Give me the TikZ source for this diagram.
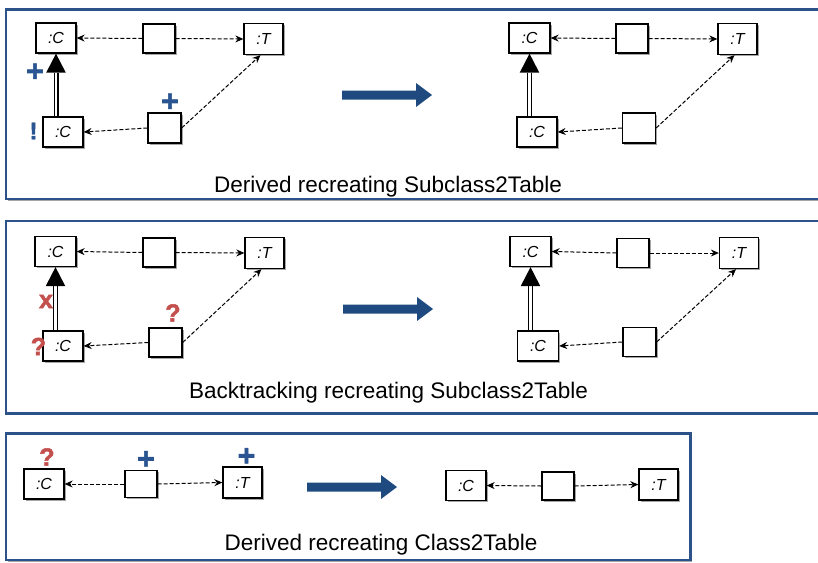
\documentclass[tikz,border=0pt]{standalone}
\usepackage{fontspec}
\setmainfont{Liberation Sans}
\newfontfamily\markfont[FakeBold=2]{Liberation Sans Bold}
\usetikzlibrary{arrows.meta,calc,shadows}
\definecolor{frameblue}{HTML}{2C5289}
\definecolor{arrowblue}{HTML}{1F4A80}
\definecolor{plusblue}{HTML}{2A5592}
\definecolor{qred}{HTML}{C4504E}
\tikzset{
  shad/.style={drop shadow={shadow xshift=1.6pt,shadow yshift=-1.6pt,opacity=0.35,fill=black}},
  cls/.style={draw,line width=1.3pt,fill=white,minimum width=40pt,minimum height=30pt,inner sep=0pt,
    font=\fontsize{16}{16}\selectfont\itshape,shad},
  tbl/.style={cls,minimum width=39pt,minimum height=31pt},
  lnk/.style={draw,line width=1.3pt,fill=white,minimum width=32pt,minimum height=29pt,inner sep=0pt,shad},
  dep/.style={line width=1pt,dash pattern=on 4pt off 2pt,-{Stealth[length=8pt,width=7pt,inset=2.6pt]}},
  gen/.style={line width=1.2pt,double=white,double distance=2.6pt},
  plusmark/.style={text=plusblue,font=\fontsize{30}{30}\selectfont\markfont,inner sep=0pt},
  bangmark/.style={text=plusblue,font=\fontsize{24}{24}\selectfont\markfont,inner sep=0pt},
  qmark/.style={text=qred,font=\fontsize{25}{25}\selectfont\markfont,inner sep=0pt},
  panel/.style={draw=frameblue,line width=2.6pt,fill=white,shad},
  caption/.style={font=\fontsize{22.5}{22.5}\selectfont,anchor=base,inner sep=0pt},
  bigarrow/.pic={\fill[arrowblue] (0,-4.5) -- (74,-4.5) -- (74,-12) -- (90,0) -- (74,12) -- (74,4.5) -- (0,4.5) -- cycle;}
}
\begin{document}
\begin{tikzpicture}[x=1pt,y=-1pt]
\useasboundingbox (0,0) rectangle (818,562);
\clip (0,0) rectangle (818,562);

% panels
\draw[panel] (6,9.5) rectangle (835,199);
\draw[panel] (6,221) rectangle (835,413.5);
\draw[panel] (6,433.5) rectangle (690.5,560);

% ---------- panel 1 left ----------
\node[cls] (c1) at (56,38) {:C};
\node[lnk] (m1) at (159,38.5) {};
\node[tbl] (t1) at (263.5,39) {:T};
\node[cls] (c2) at (63,132) {:C};
\node[lnk,minimum width=33pt,minimum height=30pt] (m2) at (164.5,128) {};
\draw[dep] (m1.west) -- (c1.east);
\draw[dep] (m1.east) -- (t1.west);
\draw[dep] (m2.west) -- (c2.east);
\draw[dep] (m2.east) -- ($(t1.south)+(-3,0)$);
\coordinate (g1) at ($(c1.south)+(0,19)$);
\draw[gen] (c1.south |- c2.north) -- (g1);
\fill (c1.south) -- ($(g1)+(-9.8,0)$) -- ($(g1)+(9.8,0)$) -- cycle;
\node[plusmark] (p1) at (35,72.5) {+};
\node[plusmark] (p2) at (170,102.5) {+};
\node[bangmark] (b1) at (33.5,131) {!};
\pic at (342,95) {bigarrow};
% panel 1 right
\node[cls,minimum width=41pt] (c1r) at (529.5,38) {:C};
\node[lnk] (m1r) at (632,38.5) {};
\node[tbl] (t1r) at (737.5,39) {:T};
\node[cls] (c2r) at (537,132) {:C};
\node[lnk,minimum width=33pt,minimum height=30pt] (m2r) at (639,128) {};
\draw[dep] (m1r.west) -- (c1r.east);
\draw[dep] (m1r.east) -- (t1r.west);
\draw[dep] (m2r.west) -- (c2r.east);
\draw[dep] (m2r.east) -- ($(t1r.south)+(-3,0)$);
\coordinate (g1r) at ($(c1r.south)+(0,19)$);
\draw[gen] (c1r.south |- c2r.north) -- (g1r);
\fill (c1r.south) -- ($(g1r)+(-9.8,0)$) -- ($(g1r)+(9.8,0)$) -- cycle;
\node[caption] (cap1) at (388,192) {Derived recreating Subclass2Table};

% ---------- panel 2 left ----------
\node[cls,minimum width=41pt] (c3) at (55.5,251.5) {:C};
\node[lnk] (m3) at (159,252.5) {};
\node[tbl] (t3) at (264.5,253) {:T};
\node[cls] (c4) at (63,346) {:C};
\node[lnk,minimum width=33pt] (m4) at (165.5,342.5) {};
\draw[dep] (m3.west) -- (c3.east);
\draw[dep] (m3.east) -- (t3.west);
\draw[dep] (m4.west) -- (c4.east);
\draw[dep] (m4.east) -- ($(t3.south)+(-3,0)$);
\coordinate (g3) at ($(c3.south)+(0,19)$);
\draw[gen] (c3.south |- c4.north) -- (g3);
\fill (c3.south) -- ($(g3)+(-9.8,0)$) -- ($(g3)+(9.8,0)$) -- cycle;
\node[qmark] (x1) at (46,301.5) {x};
\node[qmark] (q1) at (38.5,346.5) {?};
\node[qmark] (q2) at (173,313) {?};
\pic at (343,309) {bigarrow};
% panel 2 right
\node[cls,minimum width=41pt] (c3r) at (530.5,251.5) {:C};
\node[lnk] (m3r) at (633,253) {};
\node[tbl] (t3r) at (739,253) {:T};
\node[cls,minimum width=41pt] (c4r) at (538,346) {:C};
\node[lnk,minimum width=33pt] (m4r) at (639.5,342) {};
\draw[dep] (m3r.west) -- (c3r.east);
\draw[dep] (m3r.east) -- (t3r.west);
\draw[dep] (m4r.west) -- (c4r.east);
\draw[dep] (m4r.east) -- ($(t3r.south)+(-3,0)$);
\coordinate (g3r) at ($(c3r.south)+(0,19)$);
\draw[gen] (c3r.south |- c4r.north) -- (g3r);
\fill (c3r.south) -- ($(g3r)+(-9.8,0)$) -- ($(g3r)+(9.8,0)$) -- cycle;
\node[caption] (cap2) at (388.5,398) {Backtracking recreating Subclass2Table};

% ---------- panel 3 ----------
\node[cls] (c5) at (44,484) {:C};
\node[lnk,minimum height=27pt] (m5) at (141,484) {};
\node[tbl] (t5) at (242.5,482.5) {:T};
\draw[dep] (m5.west) -- (c5.east);
\draw[dep] (m5.east) -- (t5.west);
\node[qmark] (q3) at (47,457) {?};
\node[plusmark] (p3) at (146,460) {+};
\node[plusmark] (p4) at (246.5,457) {+};
\pic at (307,487) {bigarrow};
\node[cls] (c5r) at (466,485.5) {:C};
\node[lnk,minimum height=28pt] (m5r) at (558,486) {};
\node[tbl] (t5r) at (658.5,484.5) {:T};
\draw[dep] (m5r.west) -- (c5r.east);
\draw[dep] (m5r.east) -- (t5r.west);
\node[caption] (cap3) at (381,550) {Derived recreating Class2Table};
\end{tikzpicture}
\end{document}
